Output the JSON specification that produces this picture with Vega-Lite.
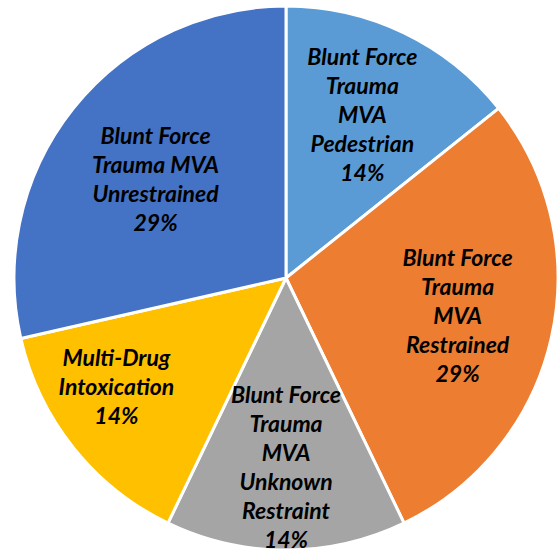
{
  "$schema": "https://vega.github.io/schema/vega-lite/v6.json",
  "width": 544,
  "height": 548,
  "autosize": "none",
  "padding": {"left": 14, "top": 4, "right": 0, "bottom": 0},
  "background": "white",
  "view": {"stroke": null},
  "data": {
    "values": [
      {"order": 1, "category": "Blunt Force Trauma MVA Pedestrian", "value": 1, "label": "Blunt Force\nTrauma\nMVA\nPedestrian\n14%"},
      {"order": 2, "category": "Blunt Force Trauma MVA Restrained", "value": 2, "label": "Blunt Force\nTrauma\nMVA\nRestrained\n29%"},
      {"order": 3, "category": "Blunt Force Trauma MVA Unknown Restraint", "value": 1, "label": "Blunt Force\nTrauma\nMVA\nUnknown\nRestraint\n14%"},
      {"order": 4, "category": "Multi-Drug Intoxication", "value": 1, "label": "Multi-Drug\nIntoxication\n14%"},
      {"order": 5, "category": "Blunt Force Trauma MVA Unrestrained", "value": 2, "label": "Blunt Force\nTrauma MVA\nUnrestrained\n29%"}
    ]
  },
  "encoding": {
    "theta": {"field": "value", "type": "quantitative", "stack": true},
    "order": {"field": "order", "type": "quantitative"},
    "color": {
      "field": "category",
      "type": "nominal",
      "legend": null,
      "scale": {
        "domain": ["Blunt Force Trauma MVA Pedestrian", "Blunt Force Trauma MVA Restrained", "Blunt Force Trauma MVA Unknown Restraint", "Multi-Drug Intoxication", "Blunt Force Trauma MVA Unrestrained"],
        "range": ["#5B9BD5", "#ED7D31", "#A5A5A5", "#FFC000", "#4472C4"]
      }
    }
  },
  "layer": [
    {"mark": {"type": "arc", "outerRadius": 272, "stroke": "white", "strokeWidth": 3}},
    {
      "mark": {"type": "text", "radius": 176, "dy": -61, "lineBreak": "\n", "font": "Lato", "fontSize": 23, "fontWeight": "bold", "fontStyle": "italic", "lineHeight": 29, "align": "center", "baseline": "middle"},
      "encoding": {"text": {"condition": {"test": "datum.order == 1", "field": "label"}, "value": ""}, "color": {"value": "black"}}
    },
    {
      "mark": {"type": "text", "radius": 176, "dy": -58, "lineBreak": "\n", "font": "Lato", "fontSize": 23, "fontWeight": "bold", "fontStyle": "italic", "lineHeight": 29, "align": "center", "baseline": "middle"},
      "encoding": {"text": {"condition": {"test": "datum.order == 2", "field": "label"}, "value": ""}, "color": {"value": "black"}}
    },
    {
      "mark": {"type": "text", "radius": 189, "dy": -71, "lineBreak": "\n", "font": "Lato", "fontSize": 23, "fontWeight": "bold", "fontStyle": "italic", "lineHeight": 29, "align": "center", "baseline": "middle"},
      "encoding": {"text": {"condition": {"test": "datum.order == 3", "field": "label"}, "value": ""}, "color": {"value": "black"}}
    },
    {
      "mark": {"type": "text", "radius": 199, "dx": -14, "dy": -43, "lineBreak": "\n", "font": "Lato", "fontSize": 23, "fontWeight": "bold", "fontStyle": "italic", "lineHeight": 29, "align": "center", "baseline": "middle"},
      "encoding": {"text": {"condition": {"test": "datum.order == 4", "field": "label"}, "value": ""}, "color": {"value": "black"}}
    },
    {
      "mark": {"type": "text", "radius": 163, "dx": -3, "dy": -39, "lineBreak": "\n", "font": "Lato", "fontSize": 23, "fontWeight": "bold", "fontStyle": "italic", "lineHeight": 29, "align": "center", "baseline": "middle"},
      "encoding": {"text": {"condition": {"test": "datum.order == 5", "field": "label"}, "value": ""}, "color": {"value": "black"}}
    }
  ]
}
